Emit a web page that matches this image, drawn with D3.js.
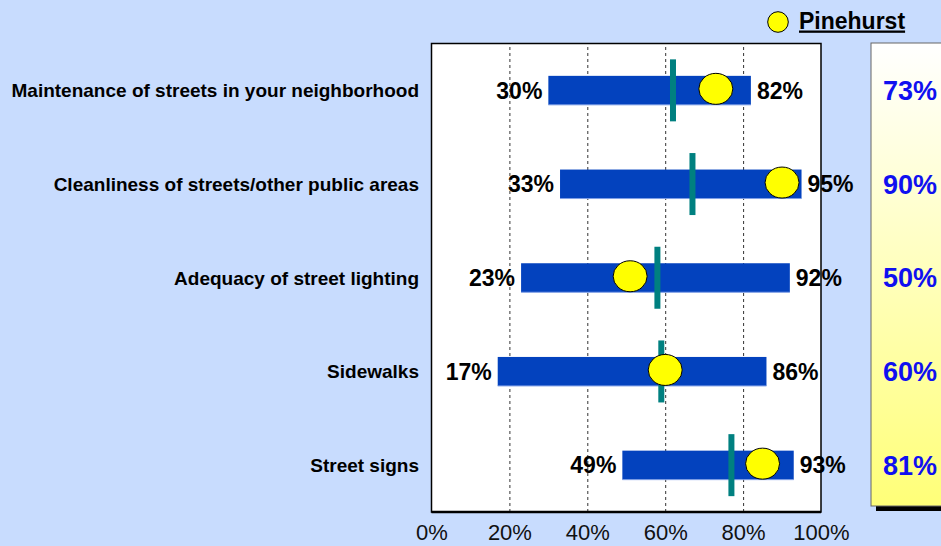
<!DOCTYPE html>
<html><head><meta charset="utf-8">
<script src="https://cdn.jsdelivr.net/npm/d3@7"></script>
<style>
html,body{margin:0;padding:0;background:#c8dcfe;}
svg{display:block;}
text{font-family:"Liberation Sans",Arial,sans-serif;}
</style></head>
<body>
<svg id="c" width="941" height="546"></svg>
<script>
const categories = [
  "Maintenance of streets in your neighborhood",
  "Cleanliness of streets/other public areas",
  "Adequacy of street lighting",
  "Sidewalks",
  "Street signs"
];
const lowValues = [30, 33, 23, 17, 49];
const highValues = [82, 95, 92, 86, 93];
const averageValues = [62, 67, 58, 59, 77];
const pinehurstDots = [73, 90, 51, 60, 85];
const pinehurstLabels = [73, 90, 50, 60, 81];
const tickValues = [0, 20, 40, 60, 80, 100];
const legendLabel = "Pinehurst";

const svg = d3.select("#c");
const plot = {left: 431.5, right: 821, top: 43.5, bottom: 512};
const x = d3.scaleLinear().domain([0, 100]).range([plot.left, plot.right]);
const y = d3.scaleBand().domain(categories).range([plot.top, plot.bottom]);
const rows = categories.map((c, i) => ({c, lo: lowValues[i], hi: highValues[i], avg: averageValues[i], dot: pinehurstDots[i], lab: pinehurstLabels[i]}));
const yc = c => y(c) + y.bandwidth() / 2;

// plot area
svg.append("rect").attr("x", plot.left).attr("y", plot.top)
  .attr("width", plot.right - plot.left).attr("height", plot.bottom - plot.top)
  .attr("fill", "#fff");

// gridlines
const grid = svg.append("g").attr("transform", `translate(0,${plot.bottom})`)
  .call(d3.axisBottom(x).tickValues([20, 40, 60, 80]).tickSize(-(plot.bottom - plot.top)).tickFormat(""));
grid.select(".domain").remove();
grid.selectAll("line").attr("stroke", "#333").attr("stroke-dasharray", "3,3").attr("stroke-width", 1);

// border
svg.append("rect").attr("x", plot.left).attr("y", plot.top)
  .attr("width", plot.right - plot.left).attr("height", plot.bottom - plot.top)
  .attr("fill", "none").attr("stroke", "#000").attr("stroke-width", 1.5);
svg.append("line").attr("x1", plot.left).attr("x2", plot.right).attr("y1", plot.bottom).attr("y2", plot.bottom)
  .attr("stroke", "#000").attr("stroke-width", 2.5);

// axis tick labels
const ax = svg.append("g").attr("transform", `translate(0,${plot.bottom})`)
  .call(d3.axisBottom(x).tickValues(tickValues).tickSize(0).tickPadding(12).tickFormat(d => d + "%"));
ax.select(".domain").remove();
ax.selectAll("text").attr("font-size", 22).attr("fill", "#111")
  .attr("font-family", "'Liberation Sans',Arial,sans-serif");

const barH = 29;
// bars
const g = svg.append("g");
g.selectAll("rect.bar").data(rows).join("rect").attr("class", "bar")
  .attr("x", d => x(d.lo)).attr("width", d => x(d.hi) - x(d.lo))
  .attr("y", d => yc(d.c) - barH / 2).attr("height", barH)
  .attr("fill", "#0342be");
g.selectAll("line.edge").data(rows).join("line").attr("class", "edge")
  .attr("x1", d => x(d.lo)).attr("x2", d => x(d.hi))
  .attr("y1", d => yc(d.c) + barH / 2).attr("y2", d => yc(d.c) + barH / 2)
  .attr("stroke", "#7f9fe6").attr("stroke-width", 1);

// average markers
g.selectAll("rect.avg").data(rows).join("rect").attr("class", "avg")
  .attr("x", d => x(d.avg) - 3).attr("width", 6)
  .attr("y", d => yc(d.c) - 31).attr("height", 62)
  .attr("fill", "#008080");

// dots
g.selectAll("ellipse").data(rows).join("ellipse")
  .attr("cx", d => x(d.dot)).attr("cy", d => yc(d.c) - 1.5)
  .attr("rx", 17).attr("ry", 15.5)
  .attr("fill", "#ffff00").attr("stroke", "#000").attr("stroke-width", 1);

// low/high labels
g.selectAll("text.lo").data(rows).join("text").attr("class", "lo")
  .attr("x", d => x(d.lo) - 6).attr("y", d => yc(d.c)).attr("dy", "0.36em")
  .attr("text-anchor", "end").attr("font-size", 23).attr("font-weight", "bold").attr("fill", "#000")
  .text(d => d.lo + "%");
g.selectAll("text.hi").data(rows).join("text").attr("class", "hi")
  .attr("x", d => x(d.hi) + 6).attr("y", d => yc(d.c)).attr("dy", "0.36em")
  .attr("text-anchor", "start").attr("font-size", 23).attr("font-weight", "bold").attr("fill", "#000")
  .text(d => d.hi + "%");

// category labels
svg.append("g").selectAll("text").data(rows).join("text")
  .attr("x", 419).attr("y", d => yc(d.c)).attr("dy", "0.36em")
  .attr("text-anchor", "end").attr("font-size", 19).attr("font-weight", "bold").attr("fill", "#000")
  .text(d => d.c);

// right panel
const defs = svg.append("defs");
const grad = defs.append("linearGradient").attr("id", "pg").attr("x1", 0).attr("x2", 0).attr("y1", 0).attr("y2", 1);
grad.append("stop").attr("offset", "0%").attr("stop-color", "#ffffff");
grad.append("stop").attr("offset", "100%").attr("stop-color", "#ffff78");
const panel = {x: 871, y: 43, w: 80, h: 463};
svg.append("rect").attr("x", panel.x + 5).attr("y", panel.y + 5).attr("width", panel.w).attr("height", panel.h).attr("fill", "#000");
svg.append("rect").attr("x", panel.x).attr("y", panel.y).attr("width", panel.w).attr("height", panel.h)
  .attr("fill", "url(#pg)").attr("stroke", "#666").attr("stroke-width", 1);
svg.append("g").selectAll("text").data(rows).join("text")
  .attr("x", 910).attr("y", d => yc(d.c)).attr("dy", "0.36em")
  .attr("text-anchor", "middle").attr("font-size", 27).attr("font-weight", "bold").attr("fill", "#1010f0")
  .text(d => d.lab + "%");

// legend
svg.append("circle").attr("cx", 778).attr("cy", 22).attr("r", 10.3)
  .attr("fill", "#ffff00").attr("stroke", "#000").attr("stroke-width", 1);
svg.append("text").attr("x", 799).attr("y", 28.5).attr("font-size", 23).attr("font-weight", "bold")
  .attr("fill", "#000").attr("text-decoration", "underline").text(legendLabel);
</script>
</body></html>
